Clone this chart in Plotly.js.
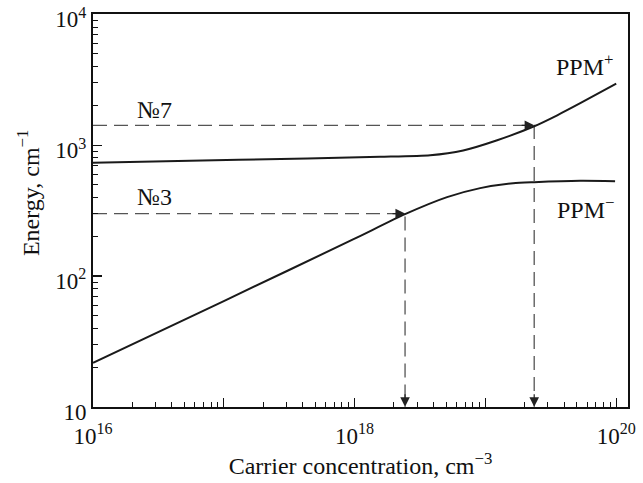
<!DOCTYPE html>
<html>
<head>
<meta charset="utf-8">
<script src="https://cdn.plot.ly/plotly-3.0.1.min.js"></script>
<style>html,body{margin:0;padding:0;background:#fff;}#chart{width:643px;height:483px;}</style>
</head>
<body>
<div id="chart"></div>
<script>
// PPM+ branch (upper)
const ppmPlusX = [1e16, 1.3e17, 1.57e18, 3.78e18, 6.76e18, 1.23e19, 2.36e19, 3.54e19, 5.31e19, 1.0e20];
const ppmPlusY = [733, 774, 815, 838, 912, 1091, 1396, 1694, 2094, 2958];
// PPM- branch (lower)
const ppmMinusX = [1e16, 1e17, 1e18, 2.43e18, 5.09e18, 9.12e18, 1.63e19, 2.36e19, 5.31e19, 9.8e19];
const ppmMinusY = [21.7, 64.4, 193, 297, 401, 470, 513, 522, 534, 531];
// Marked points (№7 and №3)
const sampleNames = ['№7', '№3'];
const sampleX = [2.36e19, 2.43e18];
const sampleY = [1420, 300];
const xMin = 1e16, yMin = 10;

const xTickVals = [1e16, 1e17, 1e18, 1e19, 1e20];
const xTickText = ['10<sup>16</sup>', '', '10<sup>18</sup>', '', '10<sup>20</sup>'];
const yTickVals = [10, 100, 1000, 10000];
const yTickText = ['10', '10<sup>2</sup>', '10<sup>3</sup>', '10<sup>4</sup>'];

// minor tick positions (2..9 within each decade)
function minorTicks(decades) {
  const out = [];
  decades.forEach(d => { for (let k = 2; k <= 9; k++) out.push(k * d); });
  return out;
}
const xMinor = minorTicks([1e16, 1e17, 1e18, 1e19]);
const yMinor = minorTicks([10, 100, 1000]);

const FONT = '"Liberation Serif", "Times New Roman", serif';
const lineCol = '#1a1a1a';
const dashCol = '#555555';

const traces = [];
for (let i = 0; i < sampleX.length; i++) {
  traces.push({
    x: [xMin, sampleX[i], sampleX[i]],
    y: [sampleY[i], sampleY[i], yMin],
    mode: 'lines', line: {color: dashCol, width: 1.3, dash: '14px,7px'},
    hoverinfo: 'skip', showlegend: false
  });
}
traces.push({x: ppmPlusX, y: ppmPlusY, mode: 'lines', line: {color: lineCol, width: 2, shape: 'spline', smoothing: 0.6}, showlegend: false});
traces.push({x: ppmMinusX, y: ppmMinusY, mode: 'lines', line: {color: lineCol, width: 2, shape: 'spline', smoothing: 0.6}, showlegend: false});

const L = Math.log10;
const annotations = [];
for (let i = 0; i < sampleX.length; i++) {
  annotations.push({x: L(sampleX[i]), y: L(sampleY[i]), xref: 'x', yref: 'y', ax: -14, ay: 0, text: '',
    showarrow: true, arrowhead: 2, arrowsize: 1.6, arrowwidth: 1.2, arrowcolor: '#222'});
  annotations.push({x: L(sampleX[i]), y: L(yMin), xref: 'x', yref: 'y', ax: 0, ay: -14, text: '',
    showarrow: true, arrowhead: 2, arrowsize: 1.6, arrowwidth: 1.2, arrowcolor: '#222'});
}
const lblFont = {family: FONT, size: 24, color: '#111'};
annotations.push({x: 16.47, y: 3.267, xref: 'x', yref: 'y', text: sampleNames[0], showarrow: false, font: lblFont});
annotations.push({x: 16.47, y: 2.603, xref: 'x', yref: 'y', text: sampleNames[1], showarrow: false, font: lblFont});
annotations.push({x: 19.76, y: 3.61, xref: 'x', yref: 'y', text: 'PPM<sup>+</sup>', showarrow: false, font: lblFont});
annotations.push({x: 19.77, y: 2.52, xref: 'x', yref: 'y', text: 'PPM<sup>\u2212</sup>', showarrow: false, font: lblFont});
// y-axis title
annotations.push({x: -0.121, y: 0.545, xref: 'paper', yref: 'paper', xanchor: 'center', yanchor: 'middle',
  textangle: -90, showarrow: false,
  text: 'Energy, cm<sup>\u22121</sup>', font: {family: FONT, size: 24, color: '#111'}});

const layout = {
  width: 643, height: 483,
  margin: {l: 93, r: 15, t: 14, b: 76},
  paper_bgcolor: '#fff', plot_bgcolor: '#fff',
  font: {family: FONT, size: 23, color: '#111'},
  showlegend: false,
  xaxis: {
    type: 'log', range: [16, 20.09],
    tickmode: 'array', tickvals: xTickVals, ticktext: xTickText,
    ticks: 'inside', ticklen: 9, tickwidth: 1.2, tickcolor: '#111',
    minor: {ticks: 'inside', ticklen: 5, tickwidth: 1, tickcolor: '#111', tickmode: 'array', tickvals: xMinor, showgrid: false},
    showline: true, linecolor: '#111', linewidth: 2, mirror: true,
    showgrid: false, zeroline: false, ticklabeloverflow: 'allow', ticklabelstandoff: 7,
    tickfont: {family: FONT, size: 23, color: '#111'},
    title: {text: 'Carrier concentration, cm<sup>\u22123</sup>', font: {family: FONT, size: 24, color: '#111'}, standoff: 8}
  },
  yaxis: {
    type: 'log', range: [0.999, 4.003],
    tickmode: 'array', tickvals: yTickVals, ticktext: yTickText,
    ticks: 'inside', ticklen: 9, tickwidth: 1.2, tickcolor: '#111',
    minor: {ticks: 'inside', ticklen: 5, tickwidth: 1, tickcolor: '#111', tickmode: 'array', tickvals: yMinor, showgrid: false},
    showline: true, linecolor: '#111', linewidth: 2, mirror: true,
    showgrid: false, zeroline: false, ticklabeloverflow: 'allow', ticklabelshift: 5,
    tickfont: {family: FONT, size: 23, color: '#111'},
    title: {text: ''}
  },
  annotations: annotations
};

Plotly.newPlot('chart', traces, layout, {staticPlot: true, displayModeBar: false});
</script>
</body>
</html>
